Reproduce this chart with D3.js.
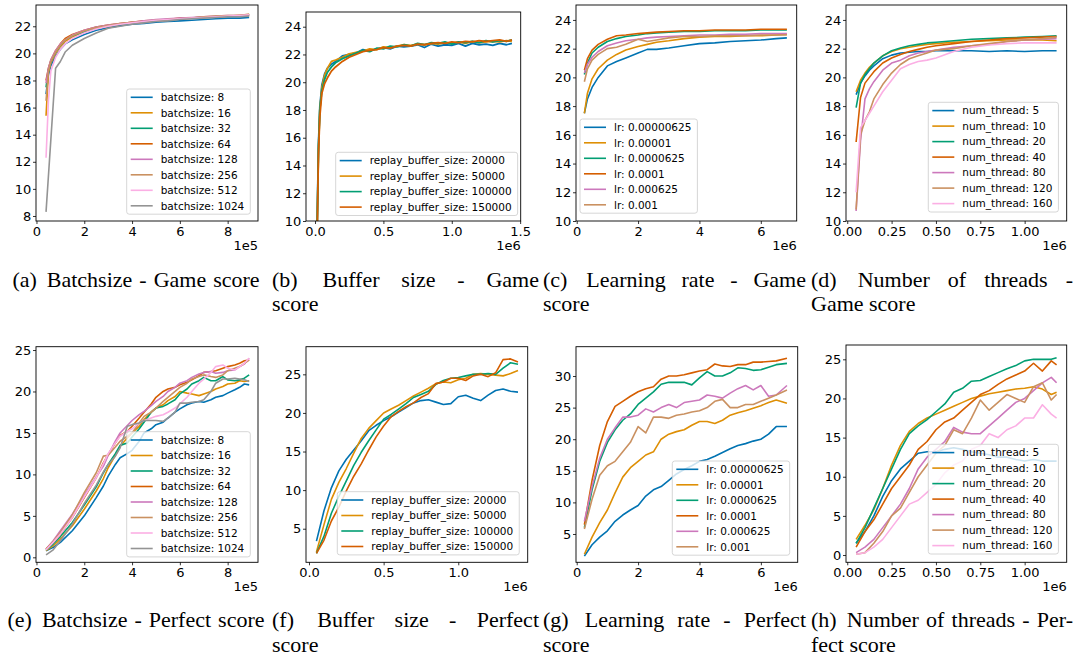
<!DOCTYPE html>
<html><head><meta charset="utf-8">
<script src="https://cdn.jsdelivr.net/npm/d3@7"></script>
<style>body{margin:0;background:#fff}svg{display:block}</style>
</head><body>
<svg id="c" width="1086" height="660"></svg>
<script>
// ---------------- DATA ----------------
const batchLabels = ["batchsize: 8","batchsize: 16","batchsize: 32","batchsize: 64","batchsize: 128","batchsize: 256","batchsize: 512","batchsize: 1024"];
const bufferLabels = ["replay_buffer_size: 20000","replay_buffer_size: 50000","replay_buffer_size: 100000","replay_buffer_size: 150000"];
const lrLabels = ["lr: 0.00000625","lr: 0.00001","lr: 0.0000625","lr: 0.0001","lr: 0.000625","lr: 0.001"];
const threadLabels = ["num_thread: 5","num_thread: 10","num_thread: 20","num_thread: 40","num_thread: 80","num_thread: 120","num_thread: 160"];

// (a) batchsize - game score (x in 1e5)
const xBatchGame = [0.4,0.5,0.6,0.8,1.0,1.2,1.5,2.0,2.5,3.0,3.5,4.0,4.5,5.0,5.5,6.0,6.5,7.0,7.5,8.0,8.5,8.9];
const yBatchGame = [
 [17.0,18.4,19.1,19.8,20.3,20.7,21.0,21.4,21.7,21.9,22.05,22.15,22.2,22.3,22.35,22.4,22.45,22.5,22.55,22.6,22.6,22.65],
 [15.4,18.6,19.3,20.0,20.5,20.9,21.2,21.6,21.85,22.0,22.15,22.3,22.35,22.45,22.5,22.55,22.6,22.65,22.7,22.75,22.8,22.85],
 [17.5,18.8,19.4,20.1,20.6,21.0,21.3,21.6,21.9,22.05,22.15,22.25,22.35,22.4,22.5,22.55,22.6,22.65,22.7,22.75,22.75,22.8],
 [18.0,18.9,19.5,20.2,20.7,21.1,21.4,21.7,21.95,22.1,22.2,22.3,22.4,22.45,22.5,22.6,22.6,22.7,22.7,22.75,22.8,22.85],
 [17.8,18.9,19.5,20.2,20.7,21.0,21.35,21.7,21.95,22.1,22.2,22.3,22.4,22.5,22.55,22.6,22.65,22.7,22.75,22.8,22.8,22.85],
 [16.5,18.7,19.4,20.1,20.6,21.0,21.3,21.65,21.9,22.05,22.2,22.3,22.35,22.45,22.5,22.55,22.6,22.7,22.75,22.8,22.8,22.9],
 [12.3,16.5,18.7,19.7,20.3,20.7,21.1,21.5,21.8,22.0,22.15,22.25,22.35,22.45,22.5,22.55,22.6,22.65,22.7,22.75,22.8,22.85],
 [8.3,10.95,13.6,18.9,19.4,20.1,20.6,21.1,21.5,21.85,22.0,22.15,22.25,22.35,22.4,22.5,22.55,22.6,22.65,22.7,22.7,22.75]
];

// (b) buffer size - game score (x in 1e6)
const xBufferGame = [0.005,0.015,0.025,0.035,0.05,0.07,0.09,0.12,0.15,0.2,0.25,0.3,0.35,0.4,0.45,0.5,0.55,0.6,0.65,0.7,0.75,0.8,0.85,0.9,0.95,1.0,1.05,1.1,1.15,1.2,1.25,1.3,1.35,1.4,1.44];
const yBufferGame = [
 [6,9.5,15.5,18.2,19.8,20.6,21.0,21.3,21.5,21.9,22.0,22.1,22.35,22.25,22.4,22.5,22.4,22.6,22.55,22.6,22.7,22.5,22.75,22.6,22.7,22.65,22.8,22.6,22.8,22.7,22.75,22.65,22.8,22.7,22.8],
 [5,9,15,18.0,19.6,20.5,21.0,21.5,21.6,21.8,22.05,22.15,22.25,22.4,22.35,22.55,22.5,22.6,22.7,22.65,22.75,22.7,22.8,22.75,22.85,22.8,22.9,22.8,22.95,22.85,22.9,22.95,22.9,23.0,22.95],
 [5.5,9.2,15.2,18.0,19.4,20.2,20.7,21.1,21.4,21.7,21.9,22.1,22.3,22.2,22.45,22.4,22.6,22.55,22.7,22.6,22.8,22.7,22.85,22.8,22.9,22.75,22.9,22.85,22.95,22.85,23.0,22.9,23.0,22.95,23.05],
 [5,8.8,14.8,17.5,19.2,19.9,20.3,20.8,21.1,21.5,21.8,22.0,22.2,22.3,22.35,22.5,22.45,22.6,22.65,22.6,22.75,22.7,22.8,22.85,22.8,22.9,22.85,22.95,22.9,23.0,22.95,23.0,23.05,22.95,23.05]
];

// (c) learning rate - game score (x in 1e6)
const xLrGame = [0.25,0.35,0.5,0.7,1.0,1.3,1.6,2.0,2.3,2.6,3.0,3.5,4.0,4.5,5.0,5.5,6.0,6.5,6.85];
const yLrGame = [
 [17.5,18.5,19.3,20.0,20.8,21.1,21.35,21.7,21.95,21.95,22.05,22.2,22.35,22.4,22.5,22.55,22.6,22.7,22.75],
 [17.5,18.9,19.9,20.6,21.2,21.6,21.9,22.15,22.3,22.45,22.55,22.7,22.8,22.85,22.85,22.9,22.9,22.95,23.0],
 [20.2,21.0,21.7,22.1,22.5,22.7,22.85,22.95,23.05,23.1,23.15,23.2,23.2,23.25,23.25,23.25,23.3,23.3,23.3],
 [20.5,21.3,21.9,22.3,22.65,22.9,22.95,23.05,23.1,23.15,23.2,23.25,23.25,23.3,23.3,23.3,23.35,23.35,23.35],
 [20.3,20.9,21.4,21.8,22.2,22.4,22.55,22.65,22.75,22.8,22.85,22.9,22.95,22.95,23.0,23.0,23.05,23.05,23.05],
 [19.7,20.6,21.2,21.6,22.0,22.1,22.3,22.65,22.5,22.6,22.75,22.85,22.85,22.9,22.9,22.9,22.95,22.95,22.95]
];

// (d) number of threads - game score (x in 1e6)
const xThreadGame = [0.05,0.075,0.1,0.125,0.15,0.2,0.25,0.3,0.35,0.4,0.45,0.5,0.6,0.7,0.8,0.9,1.0,1.1,1.18];
const yThreadGame = [
 [18.8,19.6,20.1,20.5,20.8,21.3,21.55,21.7,21.75,21.8,21.8,21.85,21.85,21.85,21.8,21.85,21.8,21.85,21.85],
 [19.0,19.8,20.3,20.7,21.0,21.5,21.8,22.0,22.1,22.2,22.3,22.35,22.45,22.5,22.55,22.6,22.6,22.6,22.55],
 [17.9,19.6,20.2,20.6,21.0,21.5,21.85,22.05,22.2,22.3,22.4,22.45,22.55,22.65,22.7,22.75,22.8,22.85,22.9],
 [15.5,18.6,19.6,20.0,20.4,21.0,21.35,21.6,21.8,21.95,22.1,22.2,22.35,22.5,22.6,22.7,22.75,22.8,22.85],
 [10.7,15.6,18.5,19.2,19.7,20.5,21.0,21.2,21.5,21.7,21.8,21.9,22.1,22.2,22.3,22.5,22.6,22.65,22.7],
 [10.8,16.0,17.0,17.6,18.5,19.5,20.3,20.9,21.3,21.5,21.7,21.9,22.0,22.2,22.35,22.5,22.6,22.7,22.8],
 [12.0,16.5,17.0,17.5,18.0,19.0,19.8,20.6,20.9,21.1,21.2,21.35,21.8,22.1,22.25,22.35,22.4,22.4,22.4]
];

// (e) batchsize - perfect score (x in 1e5)
const xBatchPerfect = [0.4,0.7,1.0,1.5,2.0,2.5,2.8,3.0,3.3,3.5,3.8,4.0,4.3,4.5,4.8,5.0,5.3,5.5,5.8,6.0,6.3,6.5,6.8,7.0,7.3,7.5,7.8,8.0,8.3,8.5,8.7,8.9];
const yBatchPerfect = [
 [0.8,1.2,1.8,3.2,5.0,7.2,8.6,9.8,11.2,12.0,12.5,12.9,14.0,15.0,15.5,16.0,16.3,16.8,17.5,17.9,18.4,18.6,18.8,18.7,19.0,19.3,19.5,19.8,20.2,20.5,20.9,20.8],
 [0.8,1.4,2.2,3.8,5.8,8.0,9.5,10.8,12.3,13.4,14.4,15.0,15.8,16.6,17.5,18.0,18.4,18.9,19.4,20.0,19.8,19.7,19.5,19.7,20.0,20.3,20.6,20.9,21.0,21.3,21.2,21.3],
 [0.9,1.6,2.5,4.2,6.3,8.5,10.2,11.2,12.5,13.5,13.8,14.5,15.5,16.3,17.5,18.0,18.2,18.5,19.0,19.7,20.3,20.9,21.3,21.7,21.3,21.3,21.8,21.4,21.3,21.4,21.6,22.0],
 [1.0,1.8,2.8,4.8,7.2,9.6,11.4,12.4,13.8,14.7,15.2,15.8,16.8,17.5,18.5,19.3,20.0,20.3,20.5,20.8,21.1,21.4,21.9,22.3,22.4,22.5,22.8,23.0,23.2,23.4,23.7,23.8],
 [1.0,2.0,3.2,5.2,7.5,9.7,11.0,12.3,14.0,15.0,15.9,16.5,17.2,17.6,18.3,18.8,19.4,20.0,20.5,21.0,21.3,21.7,22.1,22.3,22.4,22.2,22.3,22.5,22.6,23.0,23.3,24.0],
 [1.0,1.9,3.0,5.1,7.8,10.2,12.2,12.3,13.3,14.0,14.6,15.0,16.2,17.0,17.5,18.0,18.8,19.3,20.0,20.5,21.0,21.5,21.8,22.0,21.8,21.7,22.0,22.5,22.8,23.0,23.4,23.8],
 [0.9,1.8,2.8,4.8,7.3,9.6,11.3,12.5,13.8,14.6,15.2,15.5,16.2,16.5,16.8,17.0,17.2,17.5,18.0,18.5,19.3,20.0,21.0,21.5,22.3,23.0,23.2,22.8,22.6,23.0,23.4,24.0],
 [0.3,0.9,2.0,4.0,6.5,8.7,10.3,11.2,12.2,13.2,15.8,16.0,16.2,16.5,16.5,16.5,16.4,16.8,17.5,18.6,18.6,18.7,18.8,19.0,20.0,21.0,21.5,21.5,21.6,21.5,21.4,21.2]
];

// (f) buffer size - perfect score (x in 1e6)
const xBufferPerfect = [0.05,0.1,0.15,0.2,0.25,0.3,0.35,0.4,0.45,0.5,0.55,0.6,0.65,0.7,0.75,0.8,0.85,0.9,0.95,1.0,1.05,1.1,1.15,1.2,1.25,1.3,1.35,1.4];
const yBufferPerfect = [
 [3.4,7.3,10.3,12.5,14.0,15.2,16.4,17.7,18.4,19.0,19.5,20.1,20.7,21.3,21.6,21.7,21.4,21.1,21.2,22.1,22.3,21.9,21.6,22.3,22.9,23.1,22.8,22.7],
 [2.0,5.5,8.8,11.0,12.8,14.8,16.7,18.0,19.0,20.0,20.5,21.0,21.6,22.2,22.7,23.2,23.8,24.0,23.9,24.3,24.5,25.0,25.1,25.0,24.9,24.8,25.1,25.5],
 [1.8,4.0,7.0,9.2,11.2,13.2,14.9,16.4,17.8,19.2,19.8,20.5,21.2,22.0,22.4,22.8,23.7,24.2,24.5,24.6,24.8,25.0,25.0,25.1,25.0,25.8,26.5,26.3],
 [1.8,3.5,6.0,7.8,9.9,11.8,13.4,15.2,16.9,18.3,19.5,20.2,20.8,21.3,22.0,22.5,23.8,24.0,24.5,24.5,24.2,24.8,25.0,24.7,25.2,26.9,27.0,26.6]
];

// (g) learning rate - perfect score (x in 1e6)
const xLrPerfect = [0.25,0.5,0.75,1.0,1.25,1.5,1.75,2.0,2.25,2.5,2.75,3.0,3.25,3.5,3.75,4.0,4.25,4.5,4.75,5.0,5.25,5.5,5.75,6.0,6.25,6.5,6.85];
const yLrPerfect = [
 [1.5,3.3,4.5,5.5,7.0,8.0,8.8,9.5,11.0,12.0,12.5,13.5,14.5,15.2,15.8,16.5,16.8,17.3,17.9,18.5,19.0,19.3,19.7,20.0,20.8,22.0,22.0],
 [1.8,4.5,6.8,8.8,11.5,14.0,15.5,16.5,17.5,18.0,20.0,20.8,21.2,21.5,22.2,22.8,22.8,22.5,23.0,23.8,24.2,24.5,24.9,25.3,25.8,26.2,25.7],
 [6.0,12.0,16.5,19.5,21.5,23.0,24.0,25.5,26.5,27.5,28.7,29.0,29.0,29.0,28.6,29.7,30.7,30.0,30.0,30.5,31.3,31.2,30.9,31.0,31.4,31.8,32.0],
 [6.5,13.5,19.0,22.8,25.2,26.0,26.8,27.5,28.0,28.3,29.5,30.0,30.0,30.2,30.5,30.8,31.0,31.9,31.6,31.5,31.8,31.8,32.2,32.2,32.3,32.4,32.8],
 [7.0,12.5,17.0,20.0,21.8,23.5,23.5,23.8,24.8,24.3,25.0,25.5,25.0,25.8,26.0,26.2,27.0,26.8,26.5,27.3,28.0,28.5,27.8,28.5,26.8,27.0,28.5],
 [5.8,10.5,14.3,15.8,16.5,18.0,19.5,22.0,21.0,23.5,23.5,23.3,23.8,24.0,24.3,24.5,25.0,26.0,26.3,25.0,25.0,25.5,25.5,26.0,26.5,27.0,27.8]
];

// (h) number of threads - perfect score (x in 1e6)
const xThreadPerfect = [0.05,0.1,0.15,0.2,0.25,0.3,0.35,0.4,0.45,0.5,0.55,0.6,0.65,0.7,0.75,0.8,0.85,0.9,0.95,1.0,1.05,1.1,1.15,1.18];
const yThreadPerfect = [
 [1.5,3.0,5.0,7.5,9.5,11.0,12.0,13.0,13.2,13.2,13.5,13.7,13.5,13.2,13.0,12.8,12.5,12.5,12.2,12.0,12.2,12.0,12.0,12.0],
 [2.0,3.8,5.8,8.5,11.5,14.0,15.8,16.8,17.5,18.0,18.5,19.0,19.5,20.0,20.3,20.6,20.8,21.0,21.2,21.3,21.5,21.2,20.5,20.8],
 [1.5,3.5,6.0,8.5,11.0,13.5,15.5,16.5,17.3,18.3,19.3,20.8,21.3,22.2,22.3,22.8,23.3,23.8,24.2,24.8,25.0,25.0,25.0,25.2],
 [1.0,3.0,4.5,6.5,8.5,10.0,11.5,13.5,14.5,16.0,17.0,17.5,18.5,19.5,20.5,21.0,21.8,22.5,23.0,23.5,24.5,23.5,24.8,24.3],
 [0.3,1.0,2.0,3.5,5.0,6.5,8.5,11.0,12.5,13.5,14.5,16.3,15.7,15.5,15.5,16.5,17.5,18.5,19.5,20.0,21.0,22.0,22.7,22.0],
 [0.1,0.3,1.5,3.0,5.0,6.0,8.0,10.0,11.5,13.0,14.0,16.0,15.5,17.5,19.8,18.5,19.5,20.5,20.0,19.5,21.5,22.0,19.8,20.5],
 [0.1,0.3,1.0,2.0,3.5,5.0,6.5,7.0,8.0,9.0,10.5,11.5,12.0,13.5,14.0,15.5,15.0,16.0,16.5,17.5,17.5,19.2,18.0,17.5]
];

const gameTicks = [10,12,14,16,18,20,22,24];
const batchGameTicks = [8,10,12,14,16,18,20,22];
const perfectTicks25 = [0,5,10,15,20,25];
const bufferPerfectTicks = [5,10,15,20,25];
const lrPerfectTicks = [5,10,15,20,25,30];
const xTicks1e5 = [0,2,4,6,8];
const xTicksBuffer = [0,0.5,1.0,1.5];
const xTicksBufferP = [0,0.5,1.0];
const xTicksLr = [0,2,4,6];
const xTicksThread = [0,0.25,0.5,0.75,1.0];

const captions = [
 ["(a) Batchsize - Game score"],
 ["(b) Buffer size - Game","score"],
 ["(c) Learning rate - Game","score"],
 ["(d) Number of threads -","Game score"],
 ["(e) Batchsize - Perfect score"],
 ["(f) Buffer size - Perfect","score"],
 ["(g) Learning rate - Perfect","score"],
 ["(h) Number of threads - Per-","fect score"]
];

// ---------------- LAYOUT / STYLE ----------------
const palette = ["#0173b2","#de8f05","#029e73","#d55e00","#cc78bc","#ca9161","#fbafe4","#949494"];
const panels = [
 {X:xBatchGame,Y:yBatchGame,labels:batchLabels,L:36,R:258,T:5,B:221,xd:[-0.02,9.27],yd:[7.63,23.57],xt:xTicks1e5,xf:"d",yt:batchGameTicks,off:"1e5",leg:[126.7,89]},
 {X:xBufferGame,Y:yBufferGame,labels:bufferLabels,L:306,R:520.7,T:12,B:221,xd:[-0.066,1.504],yd:[10,25.06],xt:xTicksBuffer,xf:".1f",yt:gameTicks,off:"1e6",leg:[335.7,152.3],sw:1.8},
 {X:xLrGame,Y:yLrGame,labels:lrLabels,L:576,R:796.7,T:5,B:221,xd:[-0.023,7.17],yd:[10,25.04],xt:xTicksLr,xf:"d",yt:gameTicks,off:"1e6",leg:[580,119]},
 {X:xThreadGame,Y:yThreadGame,labels:threadLabels,L:846,R:1066.7,T:5,B:221,xd:[-0.007,1.237],yd:[10,25.04],xt:xTicksThread,xf:".2f",yt:gameTicks,off:"1e6",leg:[928.3,102.3]},
 {X:xBatchPerfect,Y:yBatchPerfect,labels:batchLabels,L:36,R:258,T:346.7,B:562.3,xd:[-0.02,9.27],yd:[-0.6,25.4],xt:xTicks1e5,xf:"d",yt:perfectTicks25,off:"1e5",leg:[126.7,431.7]},
 {X:xBufferPerfect,Y:yBufferPerfect,labels:bufferLabels,L:306,R:527.7,T:346.7,B:562.3,xd:[-0.02,1.465],yd:[0.65,28.58],xt:xTicksBufferP,xf:".1f",yt:bufferPerfectTicks,off:"1e6",leg:[337.3,491.7]},
 {X:xLrPerfect,Y:yLrPerfect,labels:lrLabels,L:576,R:797.7,T:346.7,B:562.3,xd:[-0.023,7.2],yd:[0.52,34.64],xt:xTicksLr,xf:"d",yt:lrPerfectTicks,off:"1e6",leg:[672.3,461]},
 {X:xThreadPerfect,Y:yThreadPerfect,labels:threadLabels,L:846,R:1066.7,T:345,B:562.3,xd:[-0.007,1.237],yd:[-0.93,26.83],xt:xTicksThread,xf:".2f",yt:perfectTicks25,off:"1e6",leg:[928.3,444.3]}
];
const capCols = [[6,266],[272,539],[543,806],[811,1073]];
const capBase = [[287,311],[627,652]];

const svg = d3.select("#c");
const tickFont = "DejaVu Sans";

panels.forEach((p,i)=>{
  const x = d3.scaleLinear().domain(p.xd).range([p.L,p.R]);
  const y = d3.scaleLinear().domain(p.yd).range([p.B,p.T]);
  const g = svg.append("g");
  const cid = "clip"+i;
  svg.append("clipPath").attr("id",cid).append("rect")
    .attr("x",p.L).attr("y",p.T).attr("width",p.R-p.L).attr("height",p.B-p.T);
  const lineG = g.append("g").attr("clip-path",`url(#${cid})`);
  const line = d3.line().x((d,k)=>x(p.X[k])).y(d=>y(d));
  p.Y.forEach((s,j)=>{
    lineG.append("path").attr("d",line(s)).attr("fill","none")
      .attr("stroke",palette[j]).attr("stroke-width",p.sw||1.6).attr("stroke-linejoin","round");
  });
  const ax = g.append("g").attr("transform",`translate(0,${p.B})`)
    .call(d3.axisBottom(x).tickValues(p.xt).tickFormat(d3.format(p.xf)).tickSize(3).tickPadding(2.5));
  const ay = g.append("g").attr("transform",`translate(${p.L},0)`)
    .call(d3.axisLeft(y).tickValues(p.yt).tickFormat(d3.format("d")).tickSize(3).tickPadding(1.8));
  [ax,ay].forEach(a=>{
    a.select(".domain").remove();
    a.selectAll("text").attr("font-family",tickFont).attr("font-size",13).attr("fill","#000");
    a.selectAll("line").attr("stroke","#000").attr("stroke-width",0.8);
  });
  g.append("rect").attr("x",p.L).attr("y",p.T).attr("width",p.R-p.L).attr("height",p.B-p.T)
    .attr("fill","none").attr("stroke","#000").attr("stroke-width",0.9);
  g.append("text").attr("x",p.R).attr("y",p.B+28.5).attr("text-anchor","end")
    .attr("font-family",tickFont).attr("font-size",13).text(p.off);
  // legend
  const lg = g.append("g");
  const box = lg.append("rect");
  let maxW = 0;
  const n = p.labels.length;
  p.labels.forEach((lab,j)=>{
    const cy = p.leg[1] + 8.3 + j*15.5;
    lg.append("line").attr("x1",p.leg[0]+4).attr("x2",p.leg[0]+26).attr("y1",cy).attr("y2",cy)
      .attr("stroke",palette[j]).attr("stroke-width",1.6);
    const t = lg.append("text").attr("x",p.leg[0]+34).attr("y",cy).attr("dy","0.36em")
      .attr("font-family",tickFont).attr("font-size",10.5).attr("fill","#000").text(lab);
    maxW = Math.max(maxW, t.node().getComputedTextLength());
  });
  box.attr("x",p.leg[0]).attr("y",p.leg[1]).attr("width",34+maxW+6).attr("height",n*15.5+1.2)
    .attr("rx",2.5).attr("fill","#fff").attr("fill-opacity",0.8).attr("stroke","#cccccc").attr("stroke-width",0.8);
});

// captions: multi-line ones justified on the first line; single-line ones with natural spacing
captions.forEach((lines,i)=>{
  const col = capCols[i%4], row = Math.floor(i/4);
  lines.forEach((ln,li)=>{
    const words = ln.split(" ");
    const ws = words.map(w=>{
      const t = svg.append("text").attr("font-family","Liberation Serif, Times New Roman, serif")
        .attr("font-size",22).attr("fill","#000").attr("y",capBase[row][li]).text(w);
      return {t, w:t.node().getComputedTextLength()};
    });
    const total = d3.sum(ws,d=>d.w);
    let gaps, start = col[0];
    if (li===0 && lines.length>1) {
      const extra = 3;
      const unit = (col[1]-col[0]-total-extra)/(ws.length-1);
      gaps = ws.slice(1).map((d,k)=>k===0?unit+extra:unit);
    } else if (li===0) {
      gaps = ws.slice(1).map((d,k)=>k===0?10:7);
      const span = total + d3.sum(gaps);
      start = col[0] + Math.max(0,(col[1]-col[0]-span)/2);
    } else {
      gaps = ws.slice(1).map(()=>5.5);
    }
    let cx = start;
    ws.forEach((d,k)=>{ d.t.attr("x",cx); cx += d.w + (gaps[k]||0); });
  });
});
</script>
</body></html>
